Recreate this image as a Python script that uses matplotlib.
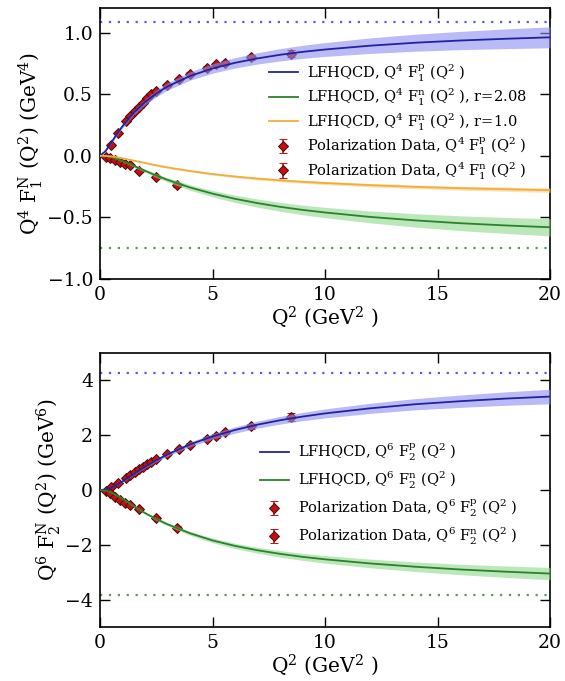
import matplotlib
matplotlib.use("Agg")
import matplotlib.pyplot as plt
import numpy as np

plt.rcParams['font.family'] = ['DejaVu Serif']
plt.rcParams['mathtext.fontset'] = 'dejavuserif'

# ---------------- data ----------------
# theory grid (GeV^2)
q2_grid = [0, 0.25, 0.5, 0.75, 1, 1.5, 2, 2.5, 3, 4, 5, 6, 7, 8, 9, 10, 12, 14, 16, 18, 20]

# top panel: Q^4 F1
f1p_curve = [0, 0.039, 0.107, 0.177, 0.241, 0.351, 0.437, 0.506, 0.563, 0.648, 0.709,
             0.755, 0.791, 0.820, 0.844, 0.863, 0.894, 0.918, 0.936, 0.950, 0.962]
f1p_err = [0, 0.003, 0.008, 0.012, 0.015, 0.02, 0.024, 0.027, 0.03, 0.034, 0.038,
           0.042, 0.046, 0.05, 0.053, 0.056, 0.063, 0.069, 0.074, 0.08, 0.085]
f1n_r208 = [0, -0.002, -0.011, -0.025, -0.042, -0.081, -0.121, -0.160, -0.195, -0.257, -0.307,
            -0.349, -0.384, -0.414, -0.439, -0.460, -0.496, -0.524, -0.547, -0.565, -0.580]
f1n_r208_err = [0, 0.001, 0.003, 0.005, 0.007, 0.01, 0.013, 0.016, 0.018, 0.022, 0.026,
                0.03, 0.033, 0.036, 0.039, 0.042, 0.048, 0.054, 0.06, 0.065, 0.07]
f1n_r10 = [0, -0.001, -0.005, -0.012, -0.020, -0.039, -0.058, -0.077, -0.094, -0.123, -0.148,
           -0.168, -0.185, -0.199, -0.211, -0.221, -0.238, -0.252, -0.263, -0.271, -0.279]
f1n_r10_err = [0, 0.0005, 0.001, 0.002, 0.003, 0.004, 0.005, 0.006, 0.007, 0.008, 0.009,
               0.01, 0.011, 0.012, 0.012, 0.013, 0.014, 0.015, 0.016, 0.017, 0.018]
f1p_asym = 1.09
f1n_asym = -0.75

# bottom panel: Q^6 F2
f2p_curve = [0, 0.018, 0.085, 0.19, 0.314, 0.582, 0.844, 1.085, 1.30, 1.665, 1.955,
             2.19, 2.385, 2.545, 2.68, 2.795, 2.98, 3.13, 3.24, 3.335, 3.41]
f2p_err = [0, 0.002, 0.008, 0.015, 0.022, 0.035, 0.047, 0.058, 0.068, 0.085, 0.1,
           0.115, 0.128, 0.14, 0.152, 0.164, 0.185, 0.205, 0.225, 0.245, 0.265]
f2n_curve = [0, -0.02, -0.09, -0.2, -0.32, -0.59, -0.84, -1.06, -1.25, -1.58, -1.84,
             -2.04, -2.2, -2.33, -2.44, -2.53, -2.68, -2.8, -2.9, -2.98, -3.05]
f2n_err = [0, 0.002, 0.007, 0.013, 0.019, 0.03, 0.04, 0.05, 0.058, 0.072, 0.085,
           0.098, 0.109, 0.119, 0.129, 0.139, 0.157, 0.174, 0.191, 0.208, 0.225]
f2p_asym = 4.28
f2n_asym = -3.85

# polarization data
q2_p = [0.49, 0.79, 1.15, 1.34, 1.54, 1.72, 1.9, 2.09, 2.28, 2.49, 2.96, 3.5, 3.99,
        4.75, 5.17, 5.54, 6.7, 8.49]
f1p_data = [0.09, 0.184, 0.28, 0.32, 0.363, 0.40, 0.43, 0.467, 0.50, 0.527, 0.571, 0.624,
            0.665, 0.714, 0.742, 0.75, 0.80, 0.83]
f1p_data_err = [0.004, 0.005, 0.006, 0.006, 0.007, 0.007, 0.008, 0.008, 0.008, 0.009, 0.01,
                0.011, 0.012, 0.014, 0.015, 0.016, 0.02, 0.025]
f2p_data = [0.12, 0.27, 0.44, 0.55, 0.66, 0.76, 0.84, 0.95, 1.04, 1.14, 1.32, 1.50, 1.66,
            1.87, 1.98, 2.10, 2.33, 2.67]
f2p_data_err = [0.01, 0.015, 0.02, 0.02, 0.025, 0.025, 0.03, 0.03, 0.03, 0.035, 0.04, 0.045,
                0.05, 0.06, 0.065, 0.07, 0.09, 0.15]

q2_n = [0.25, 0.45, 0.67, 0.9, 1.13, 1.34, 1.72, 2.48, 3.41]
f1n_data = [-0.008, -0.019, -0.036, -0.047, -0.063, -0.074, -0.124, -0.173, -0.239]
f1n_data_err = [0.003, 0.004, 0.005, 0.005, 0.006, 0.006, 0.008, 0.01, 0.015]
f2n_data = [-0.05, -0.12, -0.24, -0.36, -0.47, -0.56, -0.69, -1.02, -1.37]
f2n_data_err = [0.01, 0.015, 0.02, 0.025, 0.03, 0.03, 0.035, 0.045, 0.06]

# ---------------- styles ----------------
c_blue = '#22229e'
c_blue_band = '#8c8cf0'
c_green = '#2a822a'
c_green_band = '#8fd88f'
c_orange = '#f0ad3c'
c_orange_band = '#f8cf80'
c_dot_blue = '#5a5ae0'
c_dot_green = '#5a9a5a'
c_data = '#c41010'
c_data_edge = '#4a0a0a'

fig = plt.figure(figsize=(5.65, 6.81), dpi=100)
ax1 = fig.add_axes([100/565, 1-279/681, 450/565, 271/681])
ax2 = fig.add_axes([100/565, 1-627/681, 450/565, 274/681])

x = np.array(q2_grid)


def band(ax, y, e, color, bandcolor, label):
    y = np.array(y); e = np.array(e)
    ax.fill_between(x, y - e, y + e, color=bandcolor, alpha=0.6, lw=0, zorder=3)
    ax.plot(x, y, color=color, lw=1.3, zorder=4, label=label)


def data(ax, xs, ys, es, label):
    ax.errorbar(xs, ys, yerr=es, fmt='D', ms=5.5, mfc=c_data, mec=c_data_edge, mew=0.7,
                ecolor=c_data, elinewidth=1.2, capsize=3, capthick=1.2, zorder=2, label=label)


# ---- top panel ----
band(ax1, f1p_curve, f1p_err, c_blue, c_blue_band, r'LFHQCD, Q$^4$ F$_1^\mathrm{p}$ (Q$^2$ )')
band(ax1, f1n_r208, f1n_r208_err, c_green, c_green_band, r'LFHQCD, Q$^4$ F$_1^\mathrm{n}$ (Q$^2$ ), r=2.08')
band(ax1, f1n_r10, f1n_r10_err, c_orange, c_orange_band, r'LFHQCD, Q$^4$ F$_1^\mathrm{n}$ (Q$^2$ ), r=1.0')
data(ax1, q2_p, f1p_data, f1p_data_err, r'Polarization Data, Q$^4$ F$_1^\mathrm{p}$ (Q$^2$ )')
data(ax1, q2_n, f1n_data, f1n_data_err, r'Polarization Data, Q$^4$ F$_1^\mathrm{n}$ (Q$^2$ )')
ax1.axhline(f1p_asym, color=c_dot_blue, lw=1.6, ls=(0, (1, 3)), zorder=1)
ax1.axhline(f1n_asym, color=c_dot_green, lw=1.6, ls=(0, (1, 3)), zorder=1)
ax1.set_xlim(0, 20)
ax1.set_ylim(-1.0, 1.2)
ax1.set_yticks([-1.0, -0.5, 0.0, 0.5, 1.0])
ax1.set_xticks([0, 5, 10, 15, 20])
ax1.set_xlabel(r'Q$^2$ (GeV$^2$ )', fontsize=14.5, labelpad=0)
ax1.set_ylabel(r'Q$^4$ F$_1^\mathrm{N}$ (Q$^2$) (GeV$^4$)', fontsize=14.5, labelpad=2)
ax1.legend(loc='upper left', bbox_to_anchor=(0.375, 0.80), frameon=False, fontsize=10.5,
           handlelength=2.0, handletextpad=0.6, labelspacing=0.22, borderaxespad=0, borderpad=0)

# ---- bottom panel ----
band(ax2, f2p_curve, f2p_err, c_blue, c_blue_band, r'LFHQCD, Q$^6$ F$_2^\mathrm{p}$ (Q$^2$ )')
band(ax2, f2n_curve, f2n_err, c_green, c_green_band, r'LFHQCD, Q$^6$ F$_2^\mathrm{n}$ (Q$^2$ )')
data(ax2, q2_p, f2p_data, f2p_data_err, r'Polarization Data, Q$^6$ F$_2^\mathrm{p}$ (Q$^2$ )')
data(ax2, q2_n, f2n_data, f2n_data_err, r'Polarization Data, Q$^6$ F$_2^\mathrm{n}$ (Q$^2$ )')
ax2.axhline(f2p_asym, color=c_dot_blue, lw=1.6, ls=(0, (1, 3)), zorder=1)
ax2.axhline(f2n_asym, color=c_dot_green, lw=1.6, ls=(0, (1, 3)), zorder=1)
ax2.set_xlim(0, 20)
ax2.set_ylim(-5, 5)
ax2.set_yticks([-4, -2, 0, 2, 4])
ax2.set_xticks([0, 5, 10, 15, 20])
ax2.set_xlabel(r'Q$^2$ (GeV$^2$ )', fontsize=14.5, labelpad=0)
ax2.set_ylabel(r'Q$^6$ F$_2^\mathrm{N}$ (Q$^2$) (GeV$^6$)', fontsize=14.5, labelpad=2)
ax2.legend(loc='upper left', bbox_to_anchor=(0.355, 0.675), frameon=False, fontsize=10.5,
           handlelength=2.0, handletextpad=0.6, labelspacing=0.45, borderaxespad=0, borderpad=0)

for ax in (ax1, ax2):
    ax.tick_params(direction='in', top=True, right=True, length=7, width=1, labelsize=13.5, pad=5)
    for s in ax.spines.values():
        s.set_linewidth(1.2)

fig.savefig('out.png', dpi=100)
